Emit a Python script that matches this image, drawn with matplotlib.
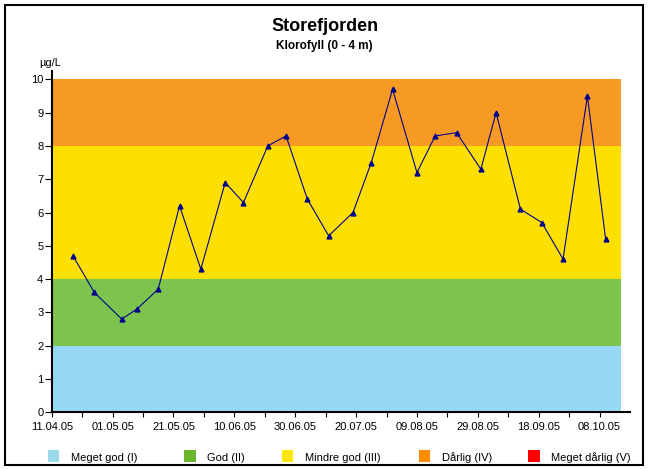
import matplotlib
matplotlib.use('Agg')
import matplotlib.pyplot as plt
from matplotlib.patches import Rectangle
import pandas as pd

plt.rcParams['font.family'] = ['Liberation Sans', 'DejaVu Sans']

# Sample dates and chlorophyll values (ug/L)
sample_dates = ['2005-04-18', '2005-04-25', '2005-05-04', '2005-05-09', '2005-05-16',
                '2005-05-23', '2005-05-30', '2005-06-07', '2005-06-13', '2005-06-21',
                '2005-06-27', '2005-07-04', '2005-07-11', '2005-07-19', '2005-07-25',
                '2005-08-01', '2005-08-09', '2005-08-15', '2005-08-22', '2005-08-30',
                '2005-09-04', '2005-09-12', '2005-09-19', '2005-09-26', '2005-10-04',
                '2005-10-10']
klorofyll = [4.7, 3.6, 2.8, 3.1, 3.7, 6.2, 4.3, 6.9, 6.3, 8.0,
             8.3, 6.4, 5.3, 6.0, 7.5, 9.7, 7.2, 8.3, 8.4, 7.3,
             9.0, 6.1, 5.7, 4.6, 9.5, 5.2]

# Condition classes
class_names = ['Meget god (I)', 'God (II)', 'Mindre god (III)', 'Dårlig (IV)', 'Meget dårlig (V)']
band_limits = [0, 2, 4, 8, 10]
band_colors = ['#96D9F5', '#7DC44E', '#FDE000', '#F79A24']
legend_colors = ['#9BD9EA', '#6DB52C', '#FFEA00', '#FF8A00', '#FF0000']

x_start = pd.Timestamp('2005-04-11')
x_end = pd.Timestamp('2005-10-18')
band_end = pd.Timestamp('2005-10-15')
tick_dates = pd.date_range('2005-04-11', '2005-10-08', freq='10D')

W, H = 648, 469


def fx(px):
    return px / W


def fy(py):
    return 1 - py / H


fig = plt.figure(figsize=(W / 100, H / 100), dpi=100)
ax = fig.add_axes([fx(51.7), fy(412.3), fx(630) - fx(51.7), fy(71) - fy(412.3)])

dates = pd.to_datetime(sample_dates)

# background bands
for i in range(len(band_colors)):
    ax.fill_between([x_start, band_end], band_limits[i], band_limits[i + 1],
                    color=band_colors[i], linewidth=0, zorder=1)

ax.plot(dates, klorofyll, color='#00008B', linewidth=0.8, marker='^',
        markersize=3.5, markerfacecolor='#00008B', markeredgecolor='#00008B', zorder=3)

ax.set_xlim(x_start, x_end)
ax.set_ylim(0, 10.25)
ax.set_yticks(range(0, 11))

ax.set_xticks(tick_dates)
ax.set_xticklabels([d.strftime('%d.%m.%y') if i % 2 == 0 else '' for i, d in enumerate(tick_dates)])

for s in ['top', 'right']:
    ax.spines[s].set_visible(False)
for s in ['left', 'bottom']:
    ax.spines[s].set_linewidth(1.5)
    ax.spines[s].set_zorder(4)

ax.tick_params(axis='y', direction='out', length=5, width=0.8, pad=1, labelsize=8)
ax.tick_params(axis='x', direction='out', length=3.5, width=0.8, pad=3.5, labelsize=8)

# titles
fig.text(0.501, fy(31), 'Storefjorden', ha='center', va='baseline',
         fontsize=13, fontweight='bold')
fig.text(0.501, fy(49), 'Klorofyll (0 - 4 m)', ha='center', va='baseline',
         fontsize=8.5, fontweight='bold')
fig.text(fx(50), fy(66.5), 'µg/L', ha='center', va='baseline', fontsize=8)

# legend
square_x = [47.7, 184.4, 281.8, 418.6, 528.4]
for i, name in enumerate(class_names):
    fig.patches.append(Rectangle((fx(square_x[i]), fy(462)), fx(11.6), 12 / H,
                                 transform=fig.transFigure, facecolor=legend_colors[i],
                                 edgecolor='none'))
    fig.text(fx(square_x[i] + 23), fy(461), name, ha='left', va='baseline', fontsize=8)

# outer frame
fig.patches.append(Rectangle((fx(5), fy(465)), fx(638), (460) / H,
                             transform=fig.transFigure, facecolor='none',
                             edgecolor='black', linewidth=1.5))

fig.savefig('out.png', dpi=100)
